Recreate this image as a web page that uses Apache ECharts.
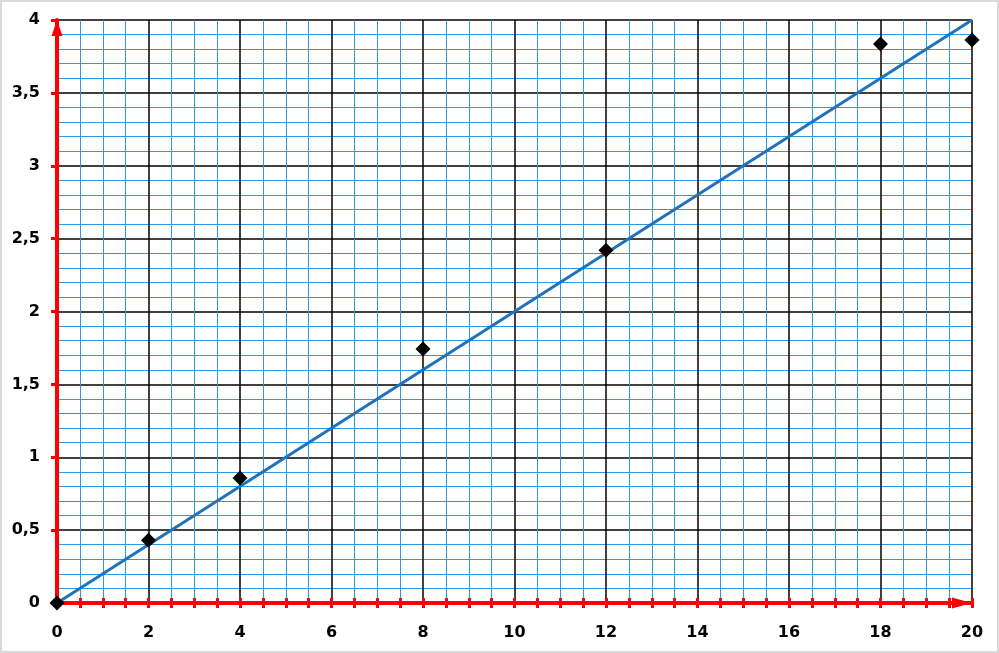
<!DOCTYPE html>
<html>
<head>
<meta charset="utf-8">
<style>
html,body{margin:0;padding:0;background:#fff;}
#chart{width:999px;height:653px;box-sizing:border-box;border:2px solid #d9d9d9;}
</style>
<script src="https://cdn.jsdelivr.net/npm/echarts@6/dist/echarts.min.js"></script>
</head>
<body>
<div id="chart"></div>
<script>
// Measured points
const xValues = [0, 2, 4, 8, 12, 18, 20];
const yValues = [0, 0.43, 0.857, 1.743, 2.42, 3.835, 3.863];
// Fitted line endpoints
const fitX = [0, 20];
const fitY = [0, 4];
// Tick labels
const xTickLabels = ['0','2','4','6','8','10','12','14','16','18','20'];
const yTickLabels = ['0','0,5','1','1,5','2','2,5','3','3,5','4'];

const RED = '#ff0000';
const labelFont = {fontFamily:'DejaVu Sans', fontWeight:'bold', fontSize:16, color:'#000'};

const chart = echarts.init(document.getElementById('chart'));
chart.setOption({
  animation:false,
  backgroundColor:'#fff',
  grid:{left:55, right:25, top:18, bottom:48, containLabel:false},
  xAxis:[{
    type:'value', min:0, max:20, interval:2, position:'bottom',
    axisLine:{show:true, onZero:false, lineStyle:{color:RED, width:4},
      symbol:['none','triangle'], symbolSize:[11,20], symbolOffset:[0,-10]},
    axisTick:{show:true, length:5, lineStyle:{color:RED, width:3}},
    minorTick:{show:true, splitNumber:4, length:5, lineStyle:{color:RED, width:3}},
    axisLabel:Object.assign({margin:22, formatter:(v)=>xTickLabels[Math.round(v/2)]}, labelFont),
    splitLine:{show:true, lineStyle:{color:'#000', width:1.5}},
    minorSplitLine:{show:true, lineStyle:{color:'#2b9be0', width:1}},
    z:5
  },{
    type:'value', min:0, max:20, interval:2, position:'bottom', offset:0,
    axisLine:{show:false},
    axisTick:{show:true, inside:true, length:5, lineStyle:{color:RED, width:3}},
    minorTick:{show:true, splitNumber:4, length:5, lineStyle:{color:RED, width:3}},
    axisLabel:{show:false},
    splitLine:{show:false},
    z:5
  }],
  yAxis:{
    type:'value', min:0, max:4, interval:0.5,
    axisLine:{show:true, onZero:false, lineStyle:{color:RED, width:4},
      symbol:['none','triangle'], symbolSize:[11,16], symbolOffset:[0,-8]},
    axisTick:{show:true, length:6, lineStyle:{color:RED, width:3}},
    minorTick:{show:false, splitNumber:5},
    axisLabel:Object.assign({margin:17, formatter:(v)=>yTickLabels[Math.round(v*2)]}, labelFont),
    splitLine:{show:true, lineStyle:{color:'#000', width:1.5}},
    minorSplitLine:{show:true, lineStyle:{color:'#2b9be0', width:1}},
    z:5
  },
  series:[{
    type:'line',
    data:fitX.map((x,i)=>[x, fitY[i]]),
    showSymbol:false, symbol:'none',
    lineStyle:{color:'#1f72bb', width:3},
    z:6
  },{
    type:'scatter',
    data:xValues.map((x,i)=>[x, yValues[i]]),
    symbol:'diamond', symbolSize:15,
    itemStyle:{color:'#000', opacity:1},
    z:10
  }]
});
</script>
</body>
</html>
